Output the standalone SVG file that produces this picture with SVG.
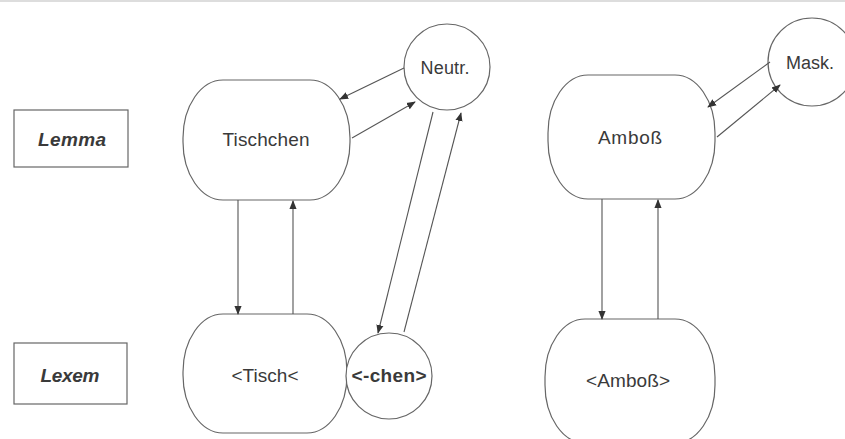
<svg xmlns="http://www.w3.org/2000/svg" width="845" height="439" viewBox="0 0 845 439">
<defs>
<style>
.n{fill:#fff;stroke:#666;stroke-width:1.2}
.t{font-family:"Liberation Sans",Arial,sans-serif;font-size:19px;fill:#3a3a3a;text-anchor:middle}
.s{font-size:18px}
.b{font-weight:bold}
.i{font-style:italic;font-weight:bold}
.c line{stroke:#555;stroke-width:1.1;marker-end:url(#ah)}
</style>
<marker id="ah" viewBox="0 0 10 10" refX="9" refY="5" markerWidth="9" markerHeight="9" markerUnits="userSpaceOnUse" orient="auto">
<path d="M0,1 L10,5 L0,9 Z" fill="#333"/>
</marker>
</defs>
<rect width="845" height="439" fill="#fff"/>
<line x1="0" y1="1" x2="845" y2="1" stroke="#ddd" stroke-width="2"/>
<g id="lemma"><rect class="n" x="14" y="110" width="114" height="57"/><text class="t i" x="72" y="146" textLength="68">Lemma</text></g>
<g id="lexem"><rect class="n" x="14" y="343" width="113" height="61"/><text class="t i" x="70" y="382" textLength="59">Lexem</text></g>
<g id="tischchen"><rect class="n" x="183" y="80" width="167" height="120" rx="40" ry="58"/><text class="t" x="266" y="146" textLength="87">Tischchen</text></g>
<g id="neutr"><circle class="n" cx="447" cy="67" r="43"/><text class="t s" x="445" y="74" textLength="49">Neutr.</text></g>
<g id="tisch"><rect class="n" x="183" y="314" width="164" height="119" rx="40" ry="58"/><text class="t" x="265" y="382" textLength="67">&lt;Tisch&lt;</text></g>
<g id="chen"><circle class="n" cx="389" cy="376" r="43"/><text class="t b" x="389" y="382" textLength="75">&lt;-chen&gt;</text></g>
<g id="amboss"><rect class="n" x="548" y="75" width="167" height="124" rx="40" ry="58"/><text class="t" x="630" y="144" textLength="64">Amboß</text></g>
<g id="mask"><circle class="n" cx="812" cy="62" r="44"/><text class="t s" x="810" y="69" textLength="48">Mask.</text></g>
<g id="amboss2"><rect class="n" x="545" y="319" width="170" height="124" rx="40" ry="58"/><text class="t" x="628" y="387" textLength="84">&lt;Amboß&gt;</text></g>
<g id="connectors" class="c">
<line x1="238" y1="200" x2="238" y2="314"/>
<line x1="293" y1="314" x2="293" y2="201"/>
<line x1="404" y1="68" x2="340" y2="99"/>
<line x1="352" y1="138" x2="415" y2="102"/>
<line x1="433" y1="112" x2="378" y2="333"/>
<line x1="404" y1="332" x2="461" y2="113"/>
<line x1="602" y1="199" x2="602" y2="319"/>
<line x1="658" y1="319" x2="658" y2="200"/>
<line x1="770" y1="62" x2="708" y2="107"/>
<line x1="717" y1="137" x2="780" y2="85"/>
</g>
</svg>
